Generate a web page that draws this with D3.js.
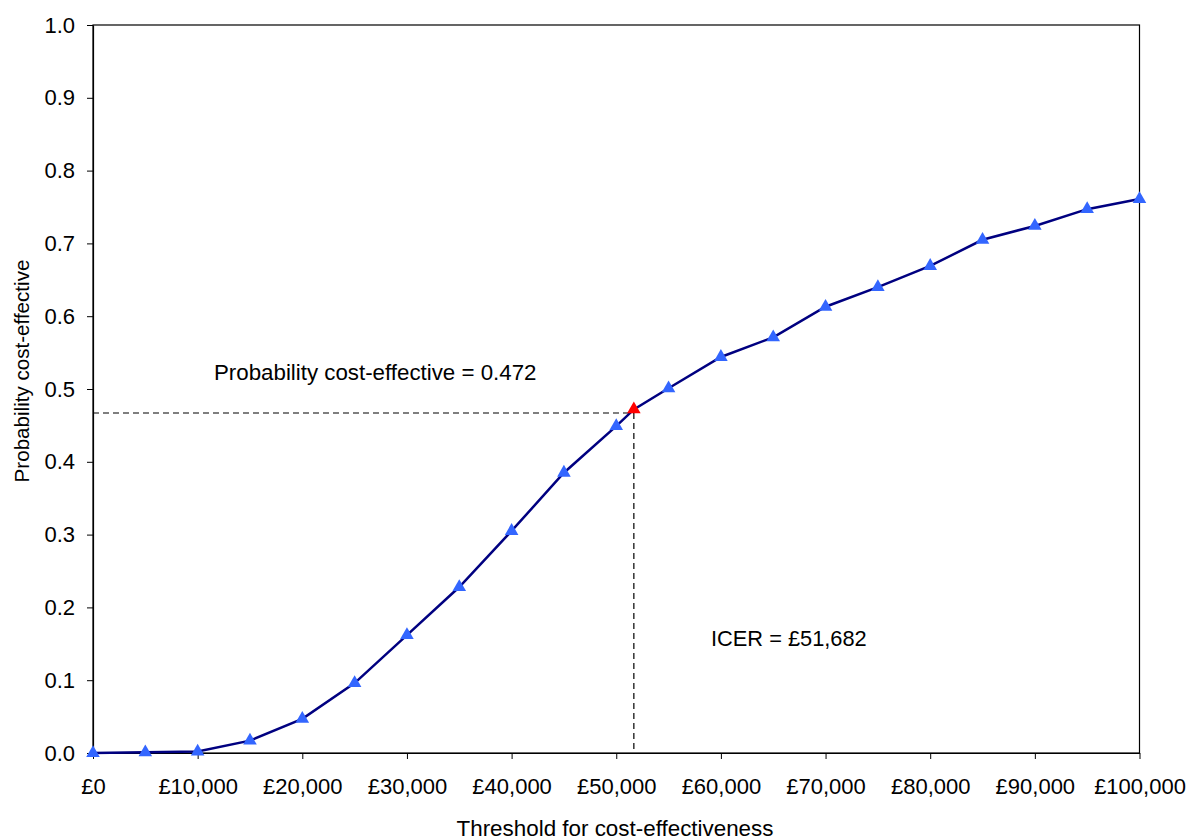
<!DOCTYPE html>
<html>
<head>
<meta charset="utf-8">
<script src="https://cdn.jsdelivr.net/npm/d3@7"></script>
<style>
  html, body { margin: 0; padding: 0; background: #fff; }
  svg { display: block; font-family: "Liberation Sans", Arial, sans-serif; }
</style>
</head>
<body>
<svg id="chart" width="1188" height="840"></svg>
<script>
// ---- data ----
const thresholds = [0, 5000, 10000, 15000, 20000, 25000, 30000, 35000, 40000, 45000, 50000,
                    55000, 60000, 65000, 70000, 75000, 80000, 85000, 90000, 95000, 100000];
const probabilities = [0.0, 0.001, 0.002, 0.017, 0.047, 0.096, 0.162, 0.228, 0.305, 0.385, 0.449,
                       0.501, 0.544, 0.571, 0.613, 0.640, 0.669, 0.705, 0.724, 0.747, 0.761];
const icerValue = 51682;
const icerProbability = 0.472;
const icerGuideLevel = 0.467;
const xTickValues = [0, 10000, 20000, 30000, 40000, 50000, 60000, 70000, 80000, 90000, 100000];
const yTickValues = [0, 0.1, 0.2, 0.3, 0.4, 0.5, 0.6, 0.7, 0.8, 0.9, 1.0];
const xTitle = "Threshold for cost-effectiveness";
const yTitle = "Probability cost-effective";
const probLabel = "Probability cost-effective = 0.472";
const icerLabel = "ICER = £51,682";

// ---- layout ----
const svg = d3.select("#chart");
const plotL = 93, plotR = 1139.5, plotT = 25, plotB = 753;

const x = d3.scaleLinear().domain([0, 100000]).range([plotL, plotR]);
const y = d3.scaleLinear().domain([0, 1]).range([plotB, plotT]);

const fmtMoney = v => "£" + d3.format(",")(v);

// frame
svg.append("rect")
  .attr("x", plotL).attr("y", plotT)
  .attr("width", plotR - plotL).attr("height", plotB - plotT)
  .attr("fill", "none").attr("stroke", "#000").attr("stroke-width", 1.2);

// axes
const xAxis = d3.axisBottom(x).tickValues(xTickValues).tickFormat(fmtMoney)
  .tickSizeInner(6).tickSizeOuter(0).tickPadding(19);
const gx = svg.append("g").attr("transform", `translate(0,${plotB})`).call(xAxis);
gx.select(".domain").attr("stroke-width", 1.2);
gx.selectAll("text").attr("font-size", 22).attr("fill", "#000")
  .attr("font-family", "Liberation Sans, Arial, sans-serif");

const yAxis = d3.axisLeft(y).tickValues(yTickValues).tickFormat(d3.format(".1f"))
  .tickSizeInner(6).tickSizeOuter(0).tickPadding(12);
const gy = svg.append("g").attr("transform", `translate(${plotL},0)`).call(yAxis);
gy.select(".domain").attr("stroke-width", 1.2);
gy.selectAll("text").attr("font-size", 22).attr("fill", "#000")
  .attr("font-family", "Liberation Sans, Arial, sans-serif");

// dashed guides
svg.append("line")
  .attr("x1", plotL).attr("x2", x(icerValue))
  .attr("y1", y(icerGuideLevel)).attr("y2", y(icerGuideLevel))
  .attr("stroke", "#000").attr("stroke-width", 1.2).attr("stroke-dasharray", "6,4");
svg.append("line")
  .attr("x1", x(icerValue)).attr("x2", x(icerValue))
  .attr("y1", y(icerGuideLevel)).attr("y2", plotB)
  .attr("stroke", "#000").attr("stroke-width", 1.2).attr("stroke-dasharray", "6,4");

// curve (including ICER point)
const pts = thresholds.map((t, i) => ({x: t, y: probabilities[i], icer: false}));
pts.push({x: icerValue, y: icerProbability, icer: true});
pts.sort((a, b) => a.x - b.x);

svg.append("path")
  .datum(pts)
  .attr("fill", "none")
  .attr("stroke", "#000080")
  .attr("stroke-width", 2.5)
  .attr("d", d3.line().x(d => x(d.x)).y(d => y(d.y)));

const tri = d3.symbol().type(d3.symbolTriangle).size(80);
svg.append("g").selectAll("path")
  .data(pts)
  .join("path")
  .attr("d", tri)
  .attr("transform", d => `translate(${x(d.x)},${y(d.y)})`)
  .attr("fill", d => d.icer ? "#ff0000" : "#3366ff");

// annotations
svg.append("text").attr("x", 214).attr("y", 380)
  .attr("font-size", 22.3).attr("fill", "#000").text(probLabel);
svg.append("text").attr("x", 711).attr("y", 646)
  .attr("font-size", 21.8).attr("fill", "#000").text(icerLabel);

// axis titles
svg.append("text").attr("x", 615).attr("y", 836)
  .attr("text-anchor", "middle").attr("font-size", 22.4).attr("fill", "#000").text(xTitle);
svg.append("text")
  .attr("transform", "translate(29,371) rotate(-90)")
  .attr("text-anchor", "middle").attr("font-size", 20.6).attr("fill", "#000").text(yTitle);
</script>
</body>
</html>
